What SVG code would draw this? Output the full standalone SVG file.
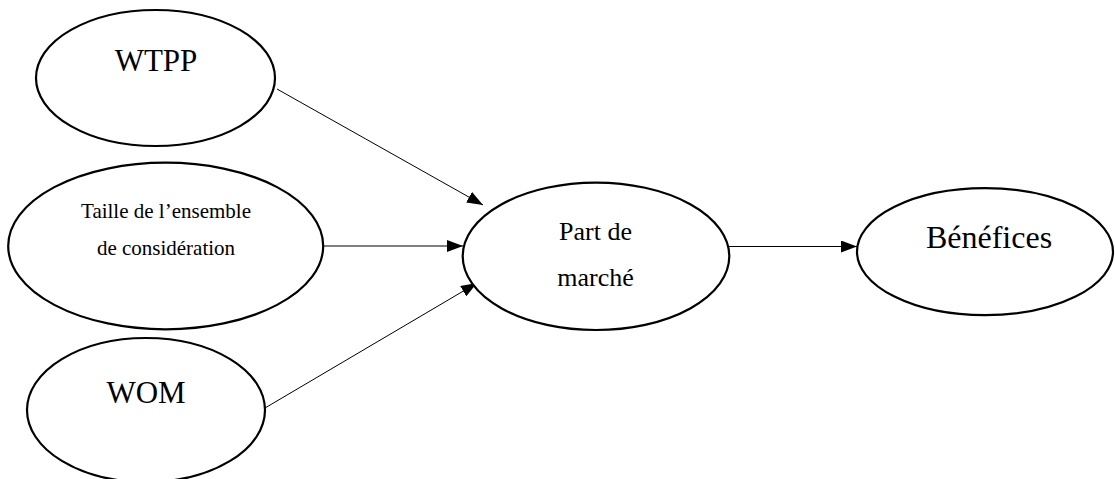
<svg xmlns="http://www.w3.org/2000/svg" width="1115" height="479" viewBox="0 0 1115 479">
<style>
.node ellipse{fill:#fff;stroke:#000;stroke-width:2.2}
.node text{font-family:'Liberation Serif',Tinos,'Times New Roman','DejaVu Serif',serif;fill:#000;text-anchor:middle}
.conn line{stroke:#000;stroke-width:1;marker-end:url(#arr)}
</style>
<defs>
<marker id="arr" viewBox="0 0 16 12" refX="16" refY="6" markerWidth="16" markerHeight="12" markerUnits="userSpaceOnUse" orient="auto">
<path d="M0,0 L16,6 L0,12 Z" fill="#000"/>
</marker>
</defs>
<rect width="1115" height="479" fill="#fff"/>
<g id="connectors" class="conn">
<line x1="277" y1="89" x2="483" y2="205"/>
<line x1="323" y1="246" x2="463" y2="246"/>
<line x1="265" y1="408" x2="477" y2="283"/>
<line x1="722" y1="246.5" x2="857" y2="246.5"/>
</g>
<g id="wtpp" class="node">
<ellipse cx="155.5" cy="78" rx="119.5" ry="68"/>
<text x="156" y="71" font-size="31">WTPP</text>
</g>
<g id="taille" class="node">
<ellipse cx="165.7" cy="246" rx="157.5" ry="83.3"/>
<text x="166" y="218" font-size="21">Taille de l’ensemble</text>
<text x="166" y="255" font-size="21">de considération</text>
</g>
<g id="wom" class="node">
<ellipse cx="146" cy="410" rx="119" ry="72"/>
<text x="146" y="403" font-size="31">WOM</text>
</g>
<g id="part" class="node">
<ellipse cx="596" cy="256.3" rx="133.3" ry="73.7"/>
<text x="595.5" y="240" font-size="26">Part de</text>
<text x="595.5" y="286" font-size="26">marché</text>
</g>
<g id="benefices" class="node">
<ellipse cx="985" cy="251.7" rx="128" ry="63.5"/>
<text x="989" y="248" font-size="32">Bénéfices</text>
</g>
</svg>
